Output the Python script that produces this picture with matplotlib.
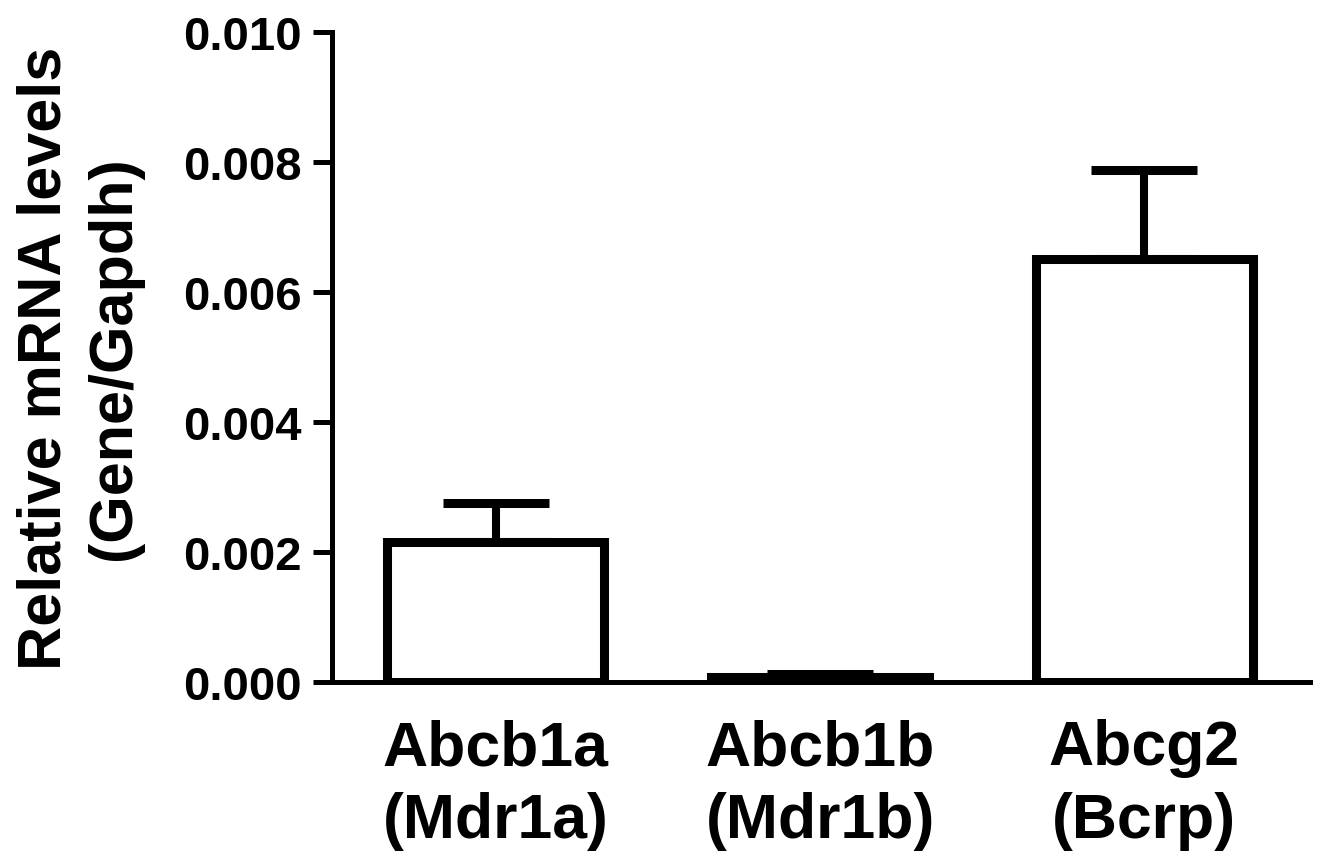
import matplotlib
matplotlib.use("Agg")
from matplotlib import pyplot as plt
import numpy as np

genes = ["Abcb1a\n(Mdr1a)", "Abcb1b\n(Mdr1b)", "Abcg2\n(Bcrp)"]
means = [0.00216, 0.00008, 0.00651]
sems = [0.00060, 0.00005, 0.00137]
yticks = [0.000, 0.002, 0.004, 0.006, 0.008, 0.010]

plt.rcParams['font.family'] = ['Liberation Sans', 'DejaVu Sans']
plt.rcParams['font.weight'] = 'bold'

fig = plt.figure(figsize=(13.23, 8.53), dpi=100)
ax = fig.add_axes([0.251, 0.199, 0.739, 0.762])

x = np.arange(len(genes))
ax.bar(x, means, width=0.67, color='white', edgecolor='black', linewidth=6.5, zorder=2)
ax.errorbar(x, np.array(means), yerr=[np.zeros(3), sems], fmt='none', ecolor='black',
            elinewidth=5.8, capsize=38, capthick=6.5, zorder=1)

ax.set_xlim(-0.505, 2.51)
ax.set_ylim(0, 0.010)
ax.set_yticks(yticks)
ax.set_yticklabels(["%.3f" % v for v in yticks], fontsize=34, fontweight='bold')
ax.set_xticks(x)
ax.set_xticklabels(genes, fontsize=45, fontweight='bold', linespacing=1.3)
ax.tick_params(axis='x', length=0, pad=26)
ax.tick_params(axis='y', length=14, width=3.6, pad=8)

for s in ['top', 'right']:
    ax.spines[s].set_visible(False)
for s in ['left', 'bottom']:
    ax.spines[s].set_linewidth(3.6)
ax.spines['bottom'].set_zorder(3)

ax.set_ylabel("Relative mRNA levels\n(Gene/Gapdh)", fontsize=44, fontweight='bold',
              labelpad=29, linespacing=1.27)

fig.savefig("out.png", dpi=100)
